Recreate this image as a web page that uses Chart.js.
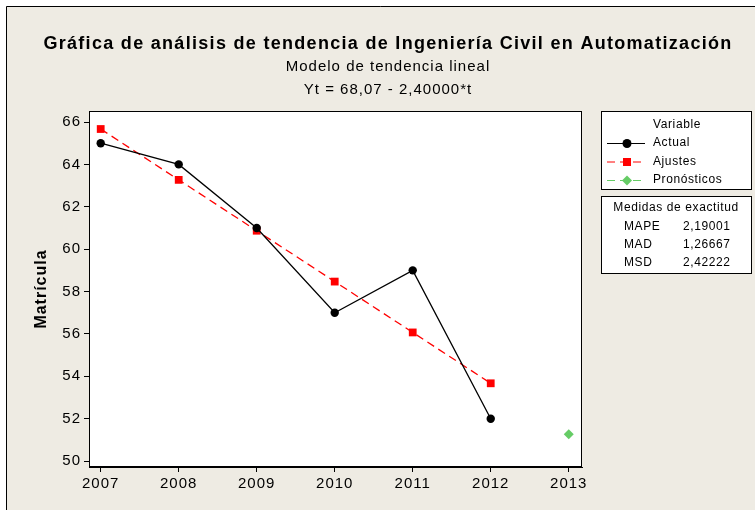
<!DOCTYPE html>
<html>
<head>
<meta charset="utf-8">
<script src="https://cdn.jsdelivr.net/npm/chart.js@4"></script>
<style>
  html, body { margin: 0; padding: 0; background: #fff; }
  #wrap { width: 755px; height: 510px; }
</style>
</head>
<body>
<div id="wrap"><canvas id="grafico"></canvas></div>
<script>
const anios = [2007, 2008, 2009, 2010, 2011, 2012]
const actual = [65, 64, 61, 57, 59, 52]
const ajustes = [65.67, 63.27, 60.87, 58.47, 56.07, 53.67]
const aniosPron = [2013]
const pronosticos = [51.27]
const ticksX = [2007, 2008, 2009, 2010, 2011, 2012, 2013]
const ticksY = [50, 52, 54, 56, 58, 60, 62, 64, 66]
const medidas = ['MAPE', 'MAD', 'MSD']
const medidasValores = ['2,19001', '1,26667', '2,42222']

const fuente = '"Liberation Sans", Arial, sans-serif'
const fondo = '#EEEBE3'

const pares = (xs, ys) => xs.map((x, i) => ({ x: x, y: ys[i] }))

// marco, títulos y cuadros de la derecha
const marco = {
  id: 'marco',
  beforeDraw(chart) {
    const c = chart.ctx
    const a = chart.chartArea
    c.save()
    c.fillStyle = '#fff'
    c.fillRect(0, 0, chart.width, chart.height)
    c.fillStyle = fondo
    c.fillRect(6, 6, chart.width, chart.height)
    c.strokeStyle = '#000'
    c.lineWidth = 1
    c.beginPath()
    c.moveTo(6.5, chart.height)
    c.lineTo(6.5, 6.5)
    c.lineTo(chart.width, 6.5)
    c.stroke()
    c.fillStyle = '#fff'
    c.fillRect(a.left, a.top, a.right - a.left, a.bottom - a.top)

    c.fillStyle = '#000'
    c.textAlign = 'center'
    c.textBaseline = 'middle'
    c.letterSpacing = '1.3px'
    c.font = 'bold 18px ' + fuente
    c.fillText('Gráfica de análisis de tendencia de Ingeniería Civil en Automatización', 388, 44)
    c.letterSpacing = '1px'
    c.font = '15px ' + fuente
    c.fillText('Modelo de tendencia lineal', 388, 67)
    c.fillText('Yt = 68,07 - 2,40000*t', 388, 90)
    c.restore()
    // los textos de los ejes van algo espaciados
    c.letterSpacing = '1px'
  },
  afterDraw(chart) {
    const c = chart.ctx
    const a = chart.chartArea
    c.save()
    c.strokeStyle = '#000'
    c.lineWidth = 1
    c.strokeRect(Math.round(a.left) + 0.5, Math.round(a.top) + 0.5,
      Math.round(a.right - a.left) - 1, Math.round(a.bottom - a.top) - 1)

    // cuadro de variables
    c.fillStyle = '#fff'
    c.fillRect(601, 111, 150, 78)
    c.strokeRect(601.5, 111.5, 150, 78)
    c.fillStyle = '#000'
    c.letterSpacing = '0.6px'
    c.font = '12px ' + fuente
    c.textBaseline = 'middle'
    c.textAlign = 'center'
    c.fillText('Variable', 677, 125)
    c.textAlign = 'left'
    const filas = chart.data.datasets
    filas.forEach((ds, i) => {
      const y = 143 + i * 18.5
      c.strokeStyle = ds.borderColor
      c.lineWidth = 1
      c.setLineDash(ds.borderDash || [])
      c.beginPath()
      c.moveTo(607, y + 0.5)
      c.lineTo(645, y + 0.5)
      c.stroke()
      c.setLineDash([])
      c.fillStyle = ds.backgroundColor
      if (ds.pointStyle === 'circle') {
        c.beginPath(); c.arc(627, y + 0.5, 4.5, 0, Math.PI * 2); c.fill()
      } else if (ds.pointStyle === 'rect') {
        c.fillRect(623, y - 3.5, 8, 8)
      } else {
        c.beginPath(); c.moveTo(627, y - 4.5); c.lineTo(632, y + 0.5); c.lineTo(627, y + 5.5); c.lineTo(622, y + 0.5); c.closePath(); c.fill()
      }
      c.fillStyle = '#000'
      c.fillText(ds.label, 653, y)
    })

    // cuadro de medidas de exactitud
    c.strokeStyle = '#000'
    c.fillStyle = '#fff'
    c.fillRect(601, 196, 150, 77)
    c.strokeRect(601.5, 196.5, 150, 77)
    c.fillStyle = '#000'
    c.textAlign = 'center'
    c.fillText('Medidas de exactitud', 676, 208)
    medidas.forEach((m, i) => {
      const y = 227 + i * 18
      c.textAlign = 'left'
      c.fillText(m, 624, y)
      c.fillText(medidasValores[i], 683, y)
    })
    c.restore()
  }
}

new Chart(document.getElementById('grafico'), {
  type: 'line',
  data: {
    datasets: [{
      label: 'Actual',
      data: pares(anios, actual),
      borderColor: '#000',
      backgroundColor: '#000',
      borderWidth: 1.3,
      pointStyle: 'circle',
      pointRadius: 4.2,
      pointBorderWidth: 0
    }, {
      label: 'Ajustes',
      data: pares(anios, ajustes),
      borderColor: '#FF0000',
      backgroundColor: '#FF0000',
      borderWidth: 1.3,
      borderDash: [8, 5],
      pointStyle: 'rect',
      pointRadius: 5.5,
      pointBorderWidth: 0
    }, {
      label: 'Pronósticos',
      data: pares(aniosPron, pronosticos),
      borderColor: '#66CC66',
      backgroundColor: '#66CC66',
      borderWidth: 1.3,
      borderDash: [8, 5],
      pointStyle: 'rectRot',
      pointRadius: 5,
      pointBorderWidth: 0
    }]
  },
  options: {
    responsive: true,
    maintainAspectRatio: false,
    animation: false,
    layout: { padding: { left: 0, right: 173, top: 111, bottom: 0 } },
    plugins: {
      legend: { display: false },
      tooltip: { enabled: false }
    },
    scales: {
      x: {
        type: 'linear',
        min: 2006.85,
        max: 2013.17,
        afterBuildTicks: s => { s.ticks = ticksX.map(v => ({ value: v })) },
        afterFit: s => { s.height = 43 },
        grid: { drawOnChartArea: false, drawTicks: true, tickLength: 5, color: '#000' },
        border: { display: true, color: '#000' },
        ticks: {
          color: '#000',
          padding: 3,
          maxRotation: 0,
          autoSkip: false,
          font: { family: fuente, size: 15 },
          callback: v => String(v)
        }
      },
      y: {
        min: 49.72,
        max: 66.52,
        afterBuildTicks: s => { s.ticks = ticksY.map(v => ({ value: v })) },
        afterFit: s => { s.width = 89 },
        grid: { drawOnChartArea: false, drawTicks: true, tickLength: 5, color: '#000' },
        border: { display: true, color: '#000' },
        title: {
          display: true,
          text: 'Matrícula',
          color: '#000',
          font: { family: fuente, size: 16, weight: 'bold' },
          padding: { top: 32, bottom: 0 }
        },
        ticks: {
          color: '#000',
          padding: 3,
          autoSkip: false,
          font: { family: fuente, size: 15 },
          callback: v => String(v)
        }
      }
    }
  },
  plugins: [marco]
})
</script>
</body>
</html>
